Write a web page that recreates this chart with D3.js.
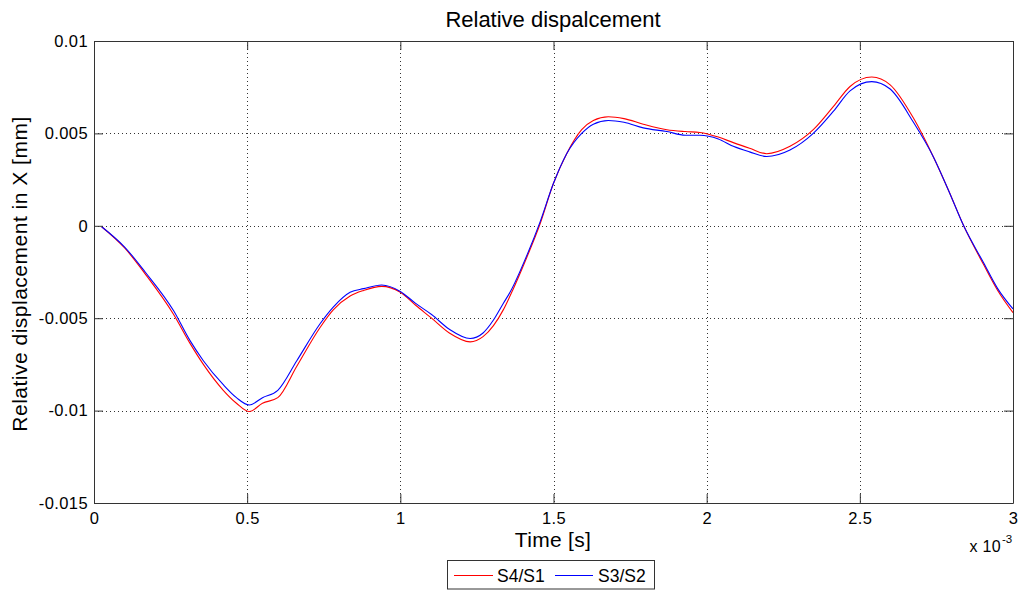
<!DOCTYPE html>
<html>
<head>
<meta charset="utf-8">
<script src="https://cdn.jsdelivr.net/npm/d3@7"></script>
<style>
  html, body { margin: 0; padding: 0; background: #fff; }
  svg { display: block; font-family: "Liberation Sans", Arial, sans-serif; }
</style>
</head>
<body>
<svg id="chart" width="1019" height="590"></svg>
<script>
// time in units of 1e-3 s
const time = [0.025, 0.1, 0.167, 0.26, 0.313, 0.357, 0.422, 0.465, 0.507, 0.55, 0.6, 0.662, 0.738, 0.781, 0.836, 0.88, 0.939, 1.0, 1.05, 1.102, 1.16, 1.228, 1.27, 1.304, 1.336, 1.358, 1.413, 1.456, 1.5, 1.543, 1.592, 1.63, 1.679, 1.73, 1.793, 1.87, 1.93, 1.978, 2.038, 2.087, 2.14, 2.196, 2.272, 2.348, 2.414, 2.468, 2.539, 2.599, 2.675, 2.741, 2.79, 2.839, 2.904, 2.95, 3.0];
const s4s1 = [-0.00005, -0.0012, -0.0026, -0.0048, -0.00635, -0.0075, -0.0089, -0.0096, -0.01005, -0.0096, -0.0093, -0.0076, -0.0055, -0.00455, -0.0038, -0.0035, -0.00328, -0.0036, -0.0043, -0.0050, -0.0058, -0.00628, -0.0060, -0.0054, -0.00455, -0.0038, -0.0017, 0.0001, 0.0023, 0.0039, 0.0052, 0.0057, 0.0059, 0.0058, 0.0055, 0.0052, 0.0051, 0.00505, 0.0048, 0.0045, 0.0042, 0.0039, 0.0043, 0.0052, 0.00646, 0.00754, 0.00805, 0.00763, 0.00583, 0.0037, 0.0019, 0.0000, -0.0021, -0.0035, -0.0047];
const s3s2 = [-0.00005, -0.00115, -0.0025, -0.0046, -0.0062, -0.0073, -0.0086, -0.0093, -0.0097, -0.0093, -0.0089, -0.0073, -0.0053, -0.0044, -0.0036, -0.0034, -0.0032, -0.00355, -0.0042, -0.0048, -0.0056, -0.0061, -0.0058, -0.0051, -0.0042, -0.0036, -0.0016, 0.0002, 0.0023, 0.0039, 0.0050, 0.0055, 0.0057, 0.0056, 0.0053, 0.0051, 0.0049, 0.0049, 0.0047, 0.0043, 0.0040, 0.00375, 0.0041, 0.0050, 0.0062, 0.0073, 0.0078, 0.0074, 0.0056, 0.0037, 0.0019, 0.0000, -0.0020, -0.0034, -0.0045];
const xTicks = [0, 0.5, 1, 1.5, 2, 2.5, 3];
const xTickLabels = ["0", "0.5", "1", "1.5", "2", "2.5", "3"];
const yTicks = [0.01, 0.005, 0, -0.005, -0.01, -0.015];
const yTickLabels = ["0.01", "0.005", "0", "-0.005", "-0.01", "-0.015"];
const seriesNames = ["S4/S1", "S3/S2"];
const seriesColors = ["#ff0000", "#0000ff"];

const svg = d3.select("#chart");
const L = 94, T = 41, W = 919, H = 462;
const x = d3.scaleLinear().domain([0, 3]).range([L, L + W]);
const y = d3.scaleLinear().domain([-0.015, 0.01]).range([T + H, T]);

// grid
const grid = svg.append("g").attr("stroke", "#333").attr("stroke-width", 1).attr("stroke-dasharray", "1,3");
xTicks.slice(1, -1).forEach(t => {
  grid.append("line").attr("x1", Math.round(x(t)) + 0.5).attr("x2", Math.round(x(t)) + 0.5)
    .attr("y1", T).attr("y2", T + H);
});
yTicks.slice(1, -1).forEach(t => {
  grid.append("line").attr("y1", Math.round(y(t)) + 0.5).attr("y2", Math.round(y(t)) + 0.5)
    .attr("x1", L).attr("x2", L + W);
});

// lines
const series = [s4s1, s3s2];
const lineGen = d3.line().x(d => x(d[0])).y(d => y(d[1])).curve(d3.curveMonotoneX);
series.forEach((vals, i) => {
  svg.append("path")
    .datum(time.map((t, j) => [t, vals[j]]))
    .attr("fill", "none")
    .attr("stroke", seriesColors[i])
    .attr("stroke-width", 1.1)
    .attr("d", lineGen);
});

// axes (box with inward ticks)
const axB = d3.axisBottom(x).tickValues(xTicks).tickFormat((d, i) => xTickLabels[i]).tickSizeInner(-9).tickSizeOuter(0).tickPadding(9);
const axT = d3.axisTop(x).tickValues(xTicks).tickFormat("").tickSizeInner(-9).tickSizeOuter(0);
const axL = d3.axisLeft(y).tickValues(yTicks).tickFormat((d, i) => yTickLabels[i]).tickSizeInner(-9).tickSizeOuter(0).tickPadding(6);
const axR = d3.axisRight(y).tickValues(yTicks).tickFormat("").tickSizeInner(-9).tickSizeOuter(0);

function style(g) {
  g.selectAll("path.domain").attr("stroke", "#333");
  g.selectAll(".tick line").attr("stroke", "#333");
  g.selectAll("text").attr("fill", "#000").style("font-size", "16.5px")
    .style("font-family", "'Liberation Sans', Arial, sans-serif").style("letter-spacing", "0.4px");
}
svg.append("g").attr("transform", `translate(0,${T + H})`).call(axB).call(style);
svg.append("g").attr("transform", `translate(0,${T})`).call(axT).call(style);
svg.append("g").attr("transform", `translate(${L},0)`).call(axL).call(style);
svg.append("g").attr("transform", `translate(${L + W},0)`).call(axR).call(style);

// exponent
svg.append("text").attr("x", 1001).attr("y", 552).attr("text-anchor", "end")
  .style("font-size", "16px").style("letter-spacing", "0.3px").text("x 10");
svg.append("text").attr("x", 1002).attr("y", 543).style("font-size", "11.5px").text("-3");

// title and labels
svg.append("text").attr("x", 553).attr("y", 26.5).attr("text-anchor", "middle")
  .style("font-size", "22px").text("Relative dispalcement");
svg.append("text").attr("x", 553).attr("y", 547).attr("text-anchor", "middle")
  .style("font-size", "21px").style("letter-spacing", "0.3px").text("Time [s]");
svg.append("text").attr("transform", "translate(27,274) rotate(-90)").attr("text-anchor", "middle")
  .style("font-size", "21px").style("letter-spacing", "0.5px").text("Relative displacement in X [mm]");

// legend
const lg = svg.append("g");
lg.append("rect").attr("x", 447.5).attr("y", 560.5).attr("width", 207).attr("height", 28.5)
  .attr("fill", "#fff").attr("stroke", "#333").attr("stroke-width", 1);
const legX = [[454, 493, 497], [555, 593, 598]];
seriesNames.forEach((n, i) => {
  lg.append("line").attr("x1", legX[i][0]).attr("x2", legX[i][1]).attr("y1", 575.5).attr("y2", 575.5)
    .attr("stroke", seriesColors[i]).attr("stroke-width", 1.1);
  lg.append("text").attr("x", legX[i][2]).attr("y", 582).style("font-size", "17.5px").text(n);
});
</script>
</body>
</html>
